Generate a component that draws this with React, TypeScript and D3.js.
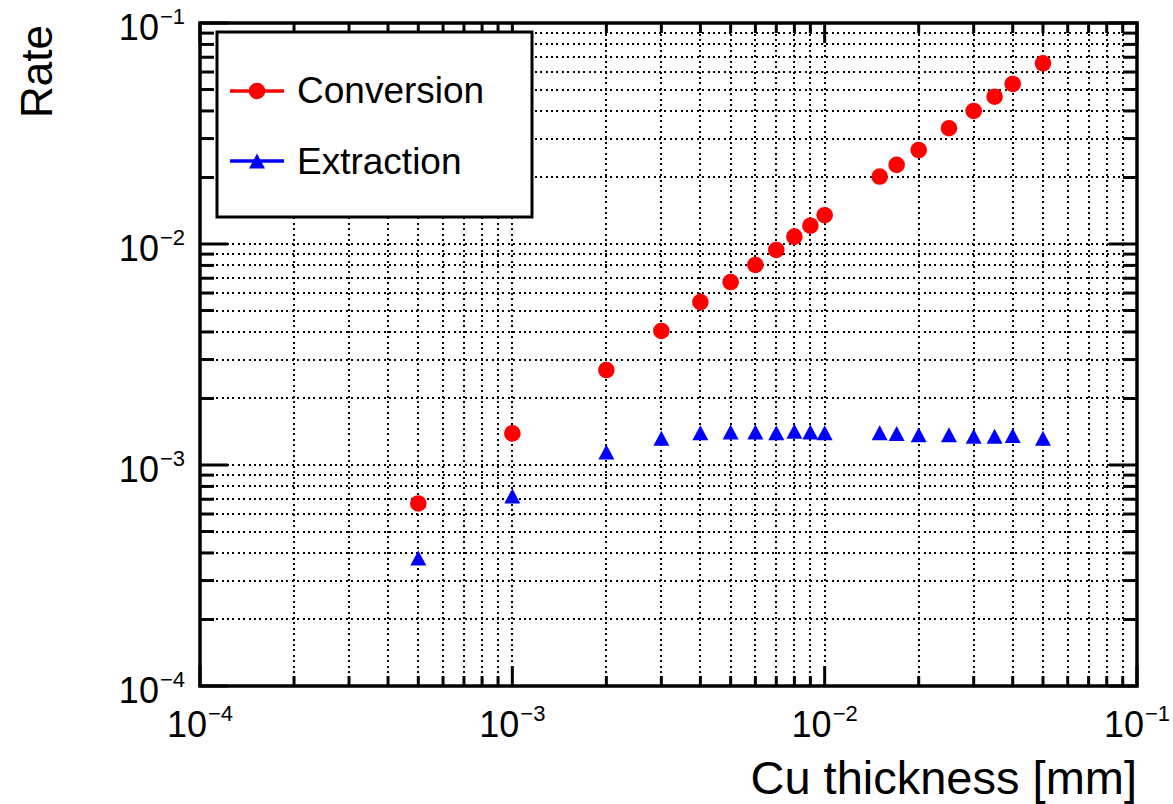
import React from "react";
import * as d3 from "d3";

// Cu foil thickness [mm] and the two simulated rates
const thickness = [5e-4, 1e-3, 2e-3, 3e-3, 4e-3, 5e-3, 6e-3, 7e-3, 8e-3, 9e-3, 1e-2, 1.5e-2, 1.7e-2, 2e-2, 2.5e-2, 3e-2, 3.5e-2, 4e-2, 5e-2];
const conversion = [6.7e-4, 1.39e-3, 2.69e-3, 4.04e-3, 5.46e-3, 6.73e-3, 8.04e-3, 9.4e-3, 1.08e-2, 1.21e-2, 1.35e-2, 2.02e-2, 2.28e-2, 2.66e-2, 3.34e-2, 4.0e-2, 4.64e-2, 5.3e-2, 6.57e-2];
const extraction = [3.79e-4, 7.24e-4, 1.145e-3, 1.32e-3, 1.4e-3, 1.41e-3, 1.41e-3, 1.4e-3, 1.42e-3, 1.41e-3, 1.4e-3, 1.4e-3, 1.39e-3, 1.37e-3, 1.37e-3, 1.35e-3, 1.35e-3, 1.36e-3, 1.32e-3];

const xDomain = [1e-4, 1e-1];
const yDomain = [1e-4, 1e-1];
const majorExponents = [-4, -3, -2, -1];
const seriesNames = ["Conversion", "Extraction"];

const W = 1173;
const H = 804;
const L = 200, R = 1137, T = 23, B = 686;
const FONT = "'Liberation Sans', Arial, Helvetica, sans-serif";

function minorTicks(domain: number[]) {
  const out: number[] = [];
  for (let e = Math.log10(domain[0]); e < Math.log10(domain[1]); e++) {
    for (let m = 2; m <= 9; m++) out.push(m * Math.pow(10, e));
  }
  return out;
}

function Pow10({ x, y, exp, anchor }: { x: number; y: number; exp: number; anchor: string }) {
  return (
    <text x={x} y={y} textAnchor={anchor} fontFamily={FONT} fontSize={36} fill="#000">
      <tspan>10</tspan>
      <tspan fontSize={22} dy={-16} dx={1}>{"\u2212" + Math.abs(exp)}</tspan>
    </text>
  );
}

export default function App() {
  const x = d3.scaleLog().domain(xDomain).range([L, R]);
  const y = d3.scaleLog().domain(yDomain).range([B, T]);
  const xMinor = minorTicks(xDomain);
  const yMinor = minorTicks(yDomain);
  const xMajor = majorExponents.map((e) => Math.pow(10, e));
  const yMajor = majorExponents.map((e) => Math.pow(10, e));

  const grid = { stroke: "#000", strokeWidth: 2, strokeDasharray: "2 3.4", shapeRendering: "crispEdges" };
  const tri = (cx: number, cy: number, w = 16, h = 15) =>
    `M${cx},${cy - h / 2}L${cx + w / 2},${cy + h / 2}L${cx - w / 2},${cy + h / 2}Z`;

  const xMajLen = 20, xMinLen = 10, yMajLen = 28, yMinLen = 14;

  return (
    <svg width={W} height={H} style={{ position: "absolute", left: 0, top: 0, background: "#fff" }}>
      <rect x={0} y={0} width={W} height={H} fill="#fff" />
      {/* dotted grid at every major and minor decade position */}
      {[...xMajor, ...xMinor].map((v, i) => (
        <line key={"gx" + i} x1={x(v)} x2={x(v)} y1={T} y2={B} {...grid} />
      ))}
      {[...yMajor, ...yMinor].map((v, i) => (
        <line key={"gy" + i} x1={L} x2={R} y1={y(v)} y2={y(v)} {...grid} />
      ))}

      {/* ticks on all four sides */}
      {xMajor.map((v, i) => (
        <g key={"txM" + i} stroke="#000" strokeWidth={3}>
          <line x1={x(v)} x2={x(v)} y1={B} y2={B - xMajLen} />
          <line x1={x(v)} x2={x(v)} y1={T} y2={T + xMajLen} />
        </g>
      ))}
      {xMinor.map((v, i) => (
        <g key={"txm" + i} stroke="#000" strokeWidth={3}>
          <line x1={x(v)} x2={x(v)} y1={B} y2={B - xMinLen} />
          <line x1={x(v)} x2={x(v)} y1={T} y2={T + xMinLen} />
        </g>
      ))}
      {yMajor.map((v, i) => (
        <g key={"tyM" + i} stroke="#000" strokeWidth={3}>
          <line x1={L} x2={L + yMajLen} y1={y(v)} y2={y(v)} />
          <line x1={R} x2={R - yMajLen} y1={y(v)} y2={y(v)} />
        </g>
      ))}
      {yMinor.map((v, i) => (
        <g key={"tym" + i} stroke="#000" strokeWidth={3}>
          <line x1={L} x2={L + yMinLen} y1={y(v)} y2={y(v)} />
          <line x1={R} x2={R - yMinLen} y1={y(v)} y2={y(v)} />
        </g>
      ))}

      <rect x={L} y={T} width={R - L} height={B - T} fill="none" stroke="#000" strokeWidth={3.5} />

      {/* tick labels */}
      {majorExponents.map((e) => (
        <Pow10 key={"lx" + e} x={x(Math.pow(10, e))} y={737} exp={e} anchor="middle" />
      ))}
      {majorExponents.map((e) => (
        <Pow10 key={"ly" + e} x={185} y={y(Math.pow(10, e)) + 17} exp={e} anchor="end" />
      ))}

      {/* axis titles */}
      <text x={R} y={794} textAnchor="end" fontFamily={FONT} fontSize={47} fill="#000">
        Cu thickness [mm]
      </text>
      <text transform="translate(52,25) rotate(-90)" textAnchor="end" fontFamily={FONT} fontSize={44} fill="#000">
        Rate
      </text>

      {/* data markers */}
      {thickness.map((t, i) => (
        <circle key={"c" + i} cx={x(t)} cy={y(conversion[i])} r={8.3} fill="#ff0000" />
      ))}
      {thickness.map((t, i) => (
        <path key={"t" + i} d={tri(x(t), y(extraction[i]))} fill="#0000ff" />
      ))}

      {/* legend */}
      <rect x={217} y={32} width={315} height={185} fill="#fff" stroke="#000" strokeWidth={3} />
      <line x1={230} x2={284} y1={91} y2={91} stroke="#ff0000" strokeWidth={3.5} />
      <circle cx={257} cy={91} r={8.3} fill="#ff0000" />
      <text x={297} y={103} fontFamily={FONT} fontSize={37} fill="#000">{seriesNames[0]}</text>
      <line x1={230} x2={284} y1={161} y2={161} stroke="#0000ff" strokeWidth={3.5} />
      <path d={tri(257, 161)} fill="#0000ff" />
      <text x={297} y={174} fontFamily={FONT} fontSize={37} fill="#000">{seriesNames[1]}</text>
    </svg>
  );
}
